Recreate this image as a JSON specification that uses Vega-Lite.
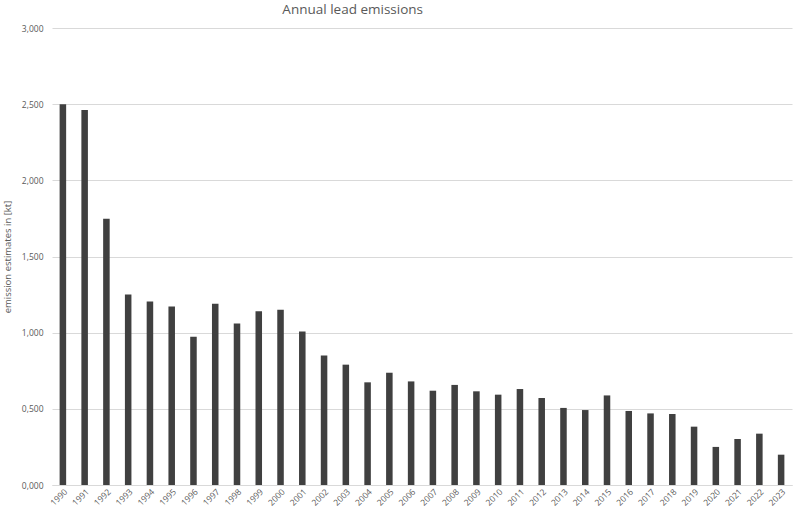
{
  "$schema": "https://vega.github.io/schema/vega-lite/v6.json",
  "width": 740,
  "height": 457,
  "autosize": {"type": "none"},
  "padding": {"left": 52, "top": 28, "right": 8, "bottom": 33},
  "background": "white",
  "title": {
    "text": "Annual lead emissions",
    "anchor": "start",
    "dx": 280,
    "offset": 8,
    "font": "Open Sans",
    "fontSize": 13.5,
    "fontWeight": "normal",
    "color": "#595959"
  },
  "data": {
    "values": [
      {"year": "1990", "kt": 2.5},
      {"year": "1991", "kt": 2.462},
      {"year": "1992", "kt": 1.748},
      {"year": "1993", "kt": 1.251},
      {"year": "1994", "kt": 1.204},
      {"year": "1995", "kt": 1.171},
      {"year": "1996", "kt": 0.974},
      {"year": "1997", "kt": 1.19},
      {"year": "1998", "kt": 1.06},
      {"year": "1999", "kt": 1.14},
      {"year": "2000", "kt": 1.151},
      {"year": "2001", "kt": 1.007},
      {"year": "2002", "kt": 0.85},
      {"year": "2003", "kt": 0.79},
      {"year": "2004", "kt": 0.674},
      {"year": "2005", "kt": 0.737},
      {"year": "2006", "kt": 0.68},
      {"year": "2007", "kt": 0.619},
      {"year": "2008", "kt": 0.657},
      {"year": "2009", "kt": 0.615},
      {"year": "2010", "kt": 0.593},
      {"year": "2011", "kt": 0.63},
      {"year": "2012", "kt": 0.571},
      {"year": "2013", "kt": 0.506},
      {"year": "2014", "kt": 0.492},
      {"year": "2015", "kt": 0.588},
      {"year": "2016", "kt": 0.486},
      {"year": "2017", "kt": 0.47},
      {"year": "2018", "kt": 0.466},
      {"year": "2019", "kt": 0.383},
      {"year": "2020", "kt": 0.25},
      {"year": "2021", "kt": 0.302},
      {"year": "2022", "kt": 0.337},
      {"year": "2023", "kt": 0.199}
    ]
  },
  "mark": {"type": "bar", "color": "#404040"},
  "encoding": {
    "x": {
      "field": "year",
      "type": "ordinal",
      "scale": {"paddingInner": 0.7, "paddingOuter": 0.35},
      "axis": {
        "title": null,
        "labelAngle": -45,
        "labelAlign": "right",
        "labelBaseline": "top",
        "labelFont": "Open Sans",
        "labelFontSize": 8.5,
        "labelColor": "#595959",
        "labelPadding": 2,
        "ticks": false,
        "domainColor": "#d9d9d9"
      }
    },
    "y": {
      "field": "kt",
      "type": "quantitative",
      "scale": {"domain": [0, 3]},
      "axis": {
        "title": "emission estimates in [kt]",
        "titleFont": "Open Sans",
        "titleFontSize": 9.5,
        "titleFontWeight": "normal",
        "titleColor": "#595959",
        "titlePadding": 9,
        "values": [0, 0.5, 1, 1.5, 2, 2.5, 3],
        "labelExpr": "replace(format(datum.value, '.3f'), '.', ',')",
        "labelFont": "Open Sans",
        "labelFontSize": 8.5,
        "labelColor": "#595959",
        "labelPadding": 9,
        "ticks": false,
        "domain": false,
        "gridColor": "#d9d9d9"
      }
    }
  },
  "config": {"view": {"stroke": null}}
}
